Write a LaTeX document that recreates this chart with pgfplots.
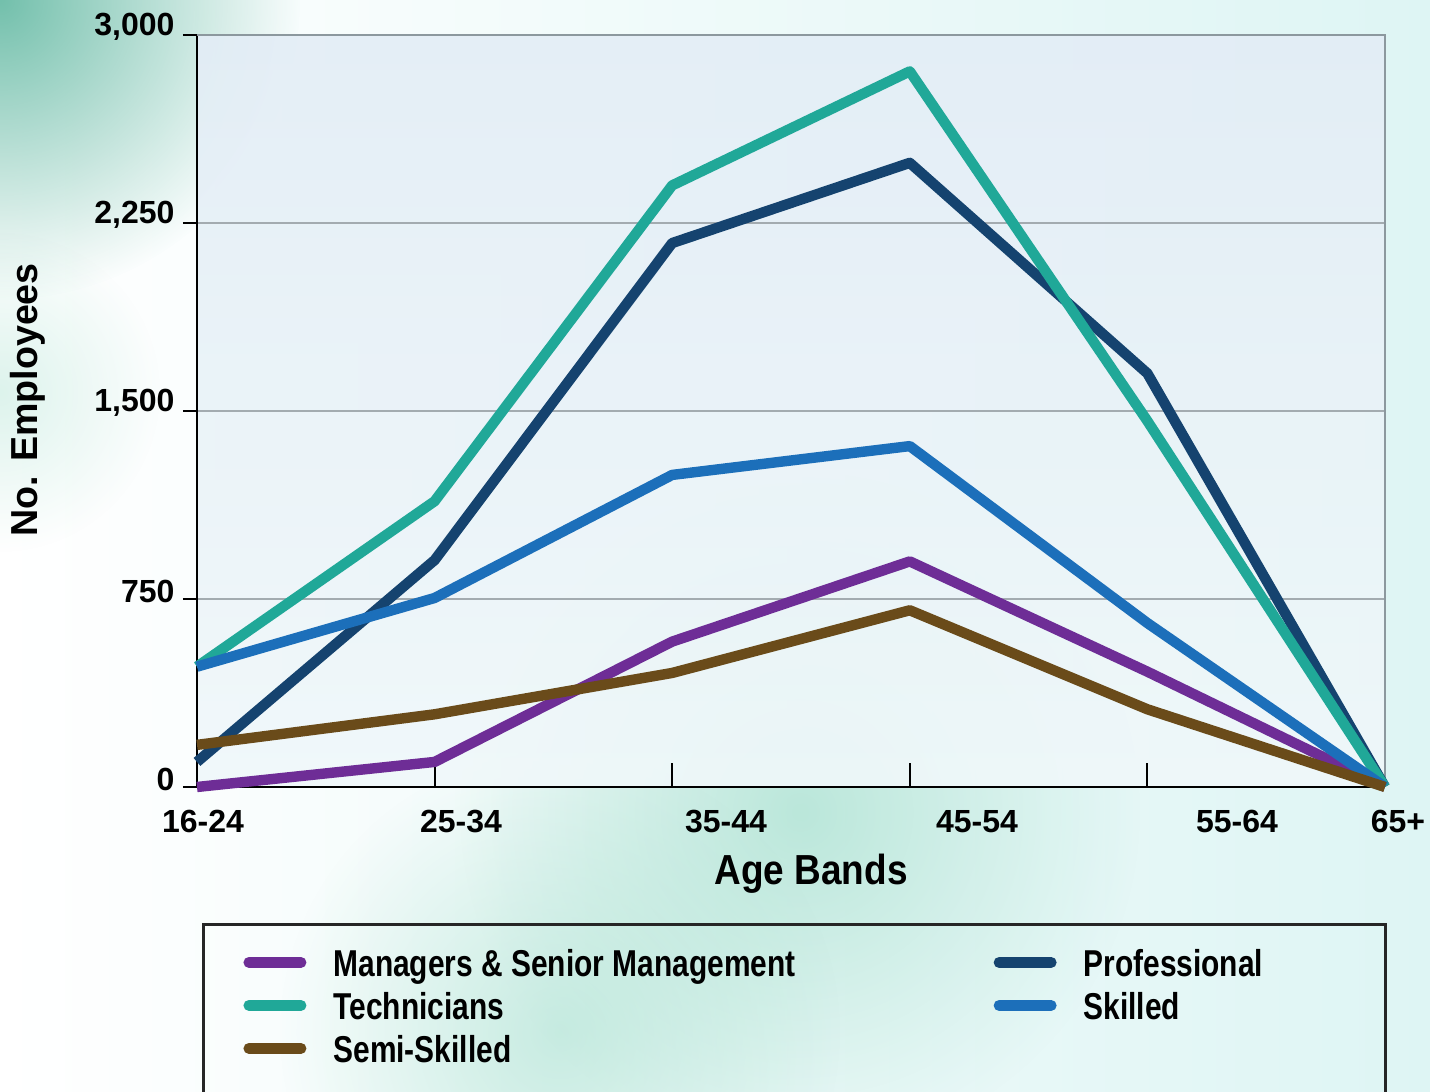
\documentclass[border=0pt]{standalone}
\usepackage{fontspec}
\setmainfont{Liberation Sans}
\newfontfamily\legfont{Liberation Sans}[FakeStretch=0.8]
\newfontfamily\xlabfont{Liberation Sans}[FakeStretch=0.88]
\usepackage{pgfplots}
\pgfplotsset{compat=1.18}
\usetikzlibrary{fadings}

\definecolor{cManager}{HTML}{6E2D96}
\definecolor{cProf}{HTML}{15436F}
\definecolor{cTech}{HTML}{20A898}
\definecolor{cSkilled}{HTML}{1C6FBA}
\definecolor{cSemi}{HTML}{6A4B1A}
\definecolor{gridgray}{HTML}{A3ABB0}
\definecolor{bordergray}{HTML}{8C989E}
\definecolor{mintdark}{RGB}{115,192,172}
\definecolor{mint}{RGB}{170,225,208}
\definecolor{paleCyan}{RGB}{222,245,244}

\tikzfading[name=softblob, inner color=transparent!0, outer color=transparent!100]

% tick label shifted right of its tick by #1
\newcommand\shiftlab[2]{\makebox[0pt][c]{\hspace*{#1}\hspace*{#1}#2}}

\begin{document}
\begin{tikzpicture}
% page size 1430 x 1092 px at 0.5pt per px
\useasboundingbox (0,0) rectangle (715pt,546pt);
\clip (0,0) rectangle (715pt,546pt);

% background decoration
\shade[left color=white, right color=paleCyan] (0,0) rectangle (715pt,546pt);
\fill[mintdark, path fading=softblob] (0pt,546pt) circle (150pt);
\fill[mint, opacity=0.75, path fading=softblob] (400pt,140pt) circle (170pt);
\fill[mint, opacity=0.6, path fading=softblob] (280pt,30pt) circle (140pt);
\fill[mint, opacity=0.4, path fading=softblob] (0pt,350pt) circle (80pt);

\begin{axis}[
  at={(98.5pt,152.5pt)}, anchor=south west,
  scale only axis,
  width=594pt, height=376pt,
  xmin=0, xmax=5,
  ymin=0, ymax=3000,
  clip=false,
  axis lines*=left,
  axis line style={-, black, line width=1.3pt},
  axis background/.style={shade, top color={rgb,255:red,227;green,237;blue,246}, bottom color={rgb,255:red,240;green,248;blue,250}, opacity=0.9},
  ytick={0,750,1500,2250,3000},
  xtick={0,1,2,3,4,5},
  xticklabels={\shiftlab{3pt}{16-24},\shiftlab{13.2pt}{25-34},\shiftlab{26.9pt}{35-44},\shiftlab{33.6pt}{45-54},\shiftlab{44.8pt}{55-64},\shiftlab{6.5pt}{65+}},
  xtick align=inside,
  ytick align=outside,
  xtick style={/pgfplots/major tick length=12pt, black, line width=1pt},
  ytick style={/pgfplots/major tick length=7pt, black, line width=1.2pt},
  ymajorgrids,
  grid style={gridgray, line width=1pt},
  /pgf/number format/assume math mode=true,
  /pgf/number format/1000 sep={,},
  yticklabel style={font=\bfseries\fontsize{16}{16}\selectfont, yshift=4pt, xshift=-3.5pt},
  xticklabel style={font=\bfseries\fontsize{16}{16}\selectfont, yshift=-8pt},
  xlabel={Age Bands},
  xlabel style={font=\xlabfont\bfseries\fontsize{21}{21}\selectfont, at={(axis description cs:0.517,-0.1157)}, anchor=center},
  ylabel={No. Employees},
  ylabel style={font=\bfseries\fontsize{18.8}{18.8}\selectfont, at={(axis description cs:-0.1423,0.515)}, anchor=center},
  legend columns=2,
  legend cell align=left,
  legend image code/.code={\draw[#1, line width=5.5pt, line cap=round] (2.75pt,2.5pt) -- (28.75pt,2.5pt);},
  legend style={draw=none, fill=none, at={(0.0337,-0.2101)}, anchor=north west,
    font=\legfont\bfseries\fontsize{18.7}{18.7}\selectfont,
    nodes={inner sep=0pt, text height=13.5pt, text depth=4.5pt},
    row sep=3.5pt,
    /tikz/every odd column/.append style={column sep=13.5pt},
    /tikz/every even column/.append style={column sep=99pt}},
  every axis plot/.append style={line width=5.2pt, line join=round},
]
% gray top and right border
\draw[bordergray, line width=1.2pt] (rel axis cs:0,1) -- (rel axis cs:1,1) -- (rel axis cs:1,0);

% x: 0=16-24, 1=25-34, 2=35-44, 3=45-54, 4=55-64, 5=65+
\addplot[cManager] coordinates {(0,0) (1,100) (2,580) (3,900) (4,460) (5,0)};
\addlegendentry{Managers \& Senior Management}
\addplot[cProf] coordinates {(0,100) (1,905) (2,2170) (3,2490) (4,1650) (5,0)};
\addlegendentry{Professional}
\addplot[cTech] coordinates {(0,480) (1,1140) (2,2400) (3,2855) (4,1460) (5,0)};
\addlegendentry{Technicians}
\addplot[cSkilled] coordinates {(0,480) (1,754) (2,1245) (3,1360) (4,654) (5,0)};
\addlegendentry{Skilled}
\addplot[cSemi] coordinates {(0,168) (1,290) (2,455) (3,705) (4,310) (5,0)};
\addlegendentry{Semi-Skilled}
\end{axis}

% legend frame, running off the bottom of the picture
\draw[black!85, line width=1.5pt] (101.5pt,83.5pt) rectangle (692.5pt,-10pt);
\end{tikzpicture}
\end{document}
